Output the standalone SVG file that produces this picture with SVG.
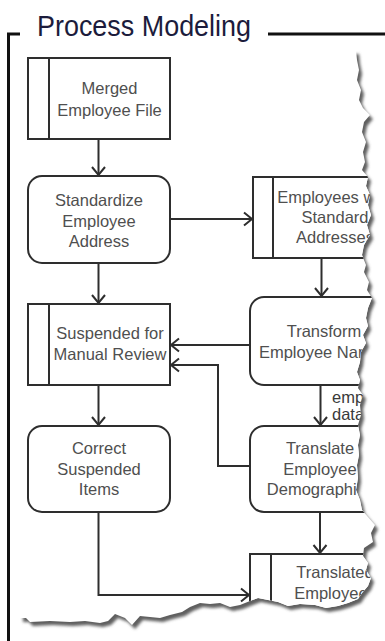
<svg xmlns="http://www.w3.org/2000/svg" xmlns:xlink="http://www.w3.org/1999/xlink" width="385" height="641" viewBox="0 0 385 641">
  <style>
    .box { fill: #ffffff; stroke: #2e2e2e; stroke-width: 2; }
    .div { stroke: #2e2e2e; stroke-width: 2; fill: none; }
    .lbl { font-family: "Liberation Sans", Arial, sans-serif; font-size: 16.5px; fill: #4f4f4f; text-anchor: middle; }
    .elbl { font-family: "Liberation Sans", Arial, sans-serif; font-size: 16.5px; fill: #3a3a3a; }
    .conn { fill: none; stroke: #2e2e2e; stroke-width: 2; }
    .frame { fill: none; stroke: #111111; stroke-width: 3; }
    .title { font-family: "Liberation Sans", Arial, sans-serif; font-size: 29px; fill: #1c1c3c; }
  </style>
  <defs>
    <!-- torn sheet outline -->
    <polygon id="sheet" points="20,50 356,50 357,60 359,70 357,80 361,90 359,100 363,108 370,115 364,122 362,132 366,142 363,152 365,162 362,170 368,177 366,186 370,195 368,205 371,215 367,225 370,235 364,245 362,255 366,265 364,272 369,282 367,290 372,298 368,308 366,318 368,326 363,335 366,343 361,352 360,362 357,372 360,380 358,388 363,395 360,405 361,415 358,425 360,435 358,445 359,455 357,465 358,478 356,490 360,500 362,510 368,517 375,525 371,533 373,542 364,548 363,556 368,563 366,570 371,578 368,586 362,593 358,599 348,603 338,606 326,608 315,605 300,604 288,606 278,602 268,600 258,598 250,601 240,605 230,607 220,603 210,604 200,603 190,607 182,612 170,615 160,618 150,617 140,616 132,625 125,618 115,614 108,621 100,623 85,621 70,622 50,621 30,622 26,618 20,618"/>
    <clipPath id="sheetClip">
      <use xlink:href="#sheet"/>
    </clipPath>
    <filter id="soft" x="-10%" y="-10%" width="120%" height="120%">
      <feGaussianBlur stdDeviation="1.6"/>
    </filter>
    <marker id="arrow" markerWidth="12" markerHeight="16" refX="10" refY="8" orient="auto" markerUnits="userSpaceOnUse">
      <path d="M2,1.5 L10,8 L2,14.5" fill="none" stroke="#2e2e2e" stroke-width="2"/>
    </marker>
  </defs>

  <rect width="385" height="641" fill="#ffffff"/>

  <!-- section frame and heading -->
  <g id="frame">
    <path class="frame" d="M8.5,641 V34 H20"/>
    <path class="frame" d="M268,34 H385"/>
    <text class="title" x="37" y="36" textLength="214" lengthAdjust="spacingAndGlyphs">Process Modeling</text>
  </g>

  <!-- sheet with shadow -->
  <use xlink:href="#sheet" fill="#5e5e5e" transform="translate(3,4)" filter="url(#soft)"/>
  <use xlink:href="#sheet" fill="#ffffff"/>

  <g clip-path="url(#sheetClip)">
    <g id="connectors">
      <path class="conn" d="M98.5,139 V175" marker-end="url(#arrow)"/>
      <path class="conn" d="M170,219 H252" marker-end="url(#arrow)"/>
      <path class="conn" d="M98.5,263 V303" marker-end="url(#arrow)"/>
      <path class="conn" d="M321.5,258 V296" marker-end="url(#arrow)"/>
      <path class="conn" d="M250,345 H171" marker-end="url(#arrow)"/>
      <path class="conn" d="M250,466 H218 V365 H171" marker-end="url(#arrow)"/>
      <path class="conn" d="M320.5,385 V425" marker-end="url(#arrow)"/>
      <path class="conn" d="M98.5,385 V425" marker-end="url(#arrow)"/>
      <path class="conn" d="M320,512 V553" marker-end="url(#arrow)"/>
      <path class="conn" d="M98.5,512 V595 H249" marker-end="url(#arrow)"/>
      <text class="elbl" x="332" y="403">employee</text>
      <text class="elbl" x="332" y="420">data</text>
    </g>

    <g id="merged-employee-file">
      <rect class="box" x="28" y="58" width="142" height="81"/>
      <line class="div" x1="49" y1="58" x2="49" y2="139"/>
      <text class="lbl" x="109.5" y="94">Merged</text>
      <text class="lbl" x="109.5" y="115.5">Employee File</text>
    </g>

    <g id="standardize-employee-address">
      <rect class="box" x="28" y="176" width="142" height="87" rx="14"/>
      <text class="lbl" x="99" y="206">Standardize</text>
      <text class="lbl" x="99" y="226.5">Employee</text>
      <text class="lbl" x="99" y="247">Address</text>
    </g>

    <g id="employees-standard-addresses">
      <rect class="box" x="253" y="177" width="150" height="81"/>
      <line class="div" x1="273" y1="177" x2="273" y2="258"/>
      <text class="lbl" x="335" y="203">Employees with</text>
      <text class="lbl" x="335" y="223">Standard</text>
      <text class="lbl" x="335" y="243">Addresses</text>
    </g>

    <g id="suspended-manual-review">
      <rect class="box" x="28" y="304" width="142" height="81"/>
      <line class="div" x1="49" y1="304" x2="49" y2="385"/>
      <text class="lbl" x="110" y="339">Suspended for</text>
      <text class="lbl" x="110" y="360">Manual Review</text>
    </g>

    <g id="transform-employee-names">
      <rect class="box" x="250" y="297" width="150" height="88" rx="14"/>
      <text class="lbl" x="324" y="337">Transform</text>
      <text class="lbl" x="324" y="358">Employee Names</text>
    </g>

    <g id="correct-suspended-items">
      <rect class="box" x="28" y="426" width="142" height="86" rx="14"/>
      <text class="lbl" x="99" y="454">Correct</text>
      <text class="lbl" x="99" y="475">Suspended</text>
      <text class="lbl" x="99" y="495">Items</text>
    </g>

    <g id="translate-employee-demographics">
      <rect class="box" x="250" y="426" width="150" height="86" rx="14"/>
      <text class="lbl" x="320" y="454">Translate</text>
      <text class="lbl" x="320" y="475">Employee</text>
      <text class="lbl" x="320" y="495">Demographics</text>
    </g>

    <g id="translated-employees">
      <rect class="box" x="250" y="554" width="150" height="81"/>
      <line class="div" x1="271" y1="554" x2="271" y2="635"/>
      <text class="lbl" x="335" y="578">Translated</text>
      <text class="lbl" x="335" y="599">Employees</text>
    </g>
  </g>
</svg>
